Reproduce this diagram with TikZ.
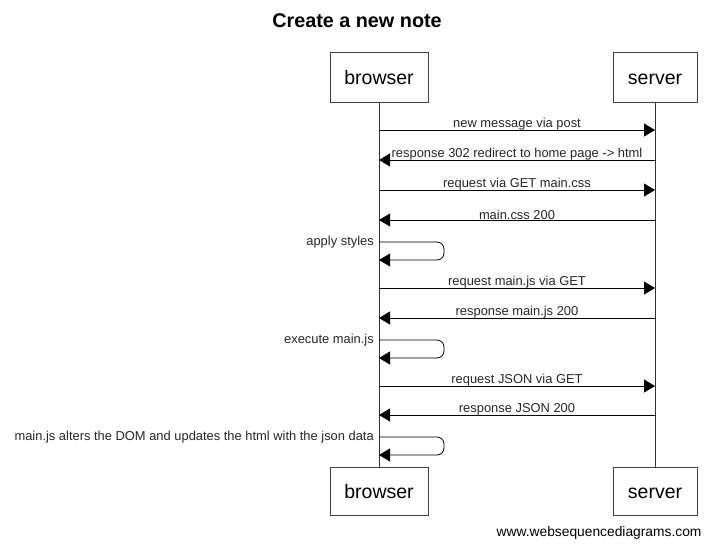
\documentclass[tikz,border=0pt]{standalone}
\usepackage{fontspec}
\setmainfont{Liberation Sans}
\usetikzlibrary{arrows.meta}
\begin{document}
\begin{tikzpicture}[x=1pt,y=-1pt,
  actor/.style={draw=black!75,line width=0.8pt,minimum width=98pt,minimum height=50pt,font=\fontsize{19.5}{22}\selectfont,inner sep=0pt,text height=14pt,text depth=0pt},
  actorR/.style={actor,minimum width=84pt},
  msg/.style={line width=0.8pt,-{Triangle[length=11pt,width=13pt]}},
  lbl/.style={font=\fontsize{12.9}{15}\selectfont,inner sep=1pt,text=black!85},
  life/.style={line width=0.8pt,black!80}]
\useasboundingbox (0,0) rectangle (713,549);
\node[font=\bfseries\fontsize{19.8}{22}\selectfont] (title) at (357,21) {Create a new note};
\node[actor] (bt) at (379,77) {browser};
\node[actorR] (st) at (655,77) {server};
\node[actor,minimum height=48pt] (bb) at (379,491) {browser};
\node[actorR,minimum height=48pt] (sb) at (655,491) {server};
\draw[life] (bt.south) -- (bb.north);
\draw[life] (st.south) -- (sb.north);
% messages
\foreach \y/\n in {130/a1,160/a2,190/a3,220/a4,288/a5,318/a6,386/a7,415/a8}{
  \coordinate (b\n) at (379,\y);
  \coordinate (s\n) at (655,\y);
}
\tikzset{mlbl/.style={lbl,above,yshift=-1.5pt}}
\draw[msg] (ba1) -- node[mlbl] {new message via post} (sa1);
\draw[msg] (sa2) -- node[mlbl] {response 302 redirect to home page -> html} (ba2);
\draw[msg] (ba3) -- node[mlbl] {request via GET main.css} (sa3);
\draw[msg] (sa4) -- node[mlbl] {main.css 200} (ba4);
\draw[msg] (ba5) -- node[mlbl] {request main.js via GET} (sa5);
\draw[msg] (sa6) -- node[mlbl] {response main.js 200} (ba6);
\draw[msg] (ba7) -- node[mlbl] {request JSON via GET} (sa7);
\draw[msg] (sa8) -- node[mlbl] {response JSON 200} (ba8);
% self loops
\foreach \y/\n in {242/l1,340/l2,437/l3}{
  \coordinate (\n s) at (379,\y);
  \coordinate (\n e) at (379,\y+18);
}
\draw[msg,rounded corners=7pt] (l1s) -- (444,242) -- (444,260) -- (l1e);
\node[lbl,anchor=south east] (t1) at (375,249) {apply styles};
\draw[msg,rounded corners=7pt] (l2s) -- (444,340) -- (444,358) -- (l2e);
\node[lbl,anchor=south east] (t2) at (375,347) {execute main.js};
\draw[msg,rounded corners=7pt] (l3s) -- (444,437) -- (444,455) -- (l3e);
\node[lbl,anchor=south east] (t3) at (375,444) {main.js alters the DOM and updates the html with the json data};
\node[font=\fontsize{13.8}{16}\selectfont,anchor=east] (foot) at (705,533) {www.websequencediagrams.com};
\end{tikzpicture}
\end{document}
